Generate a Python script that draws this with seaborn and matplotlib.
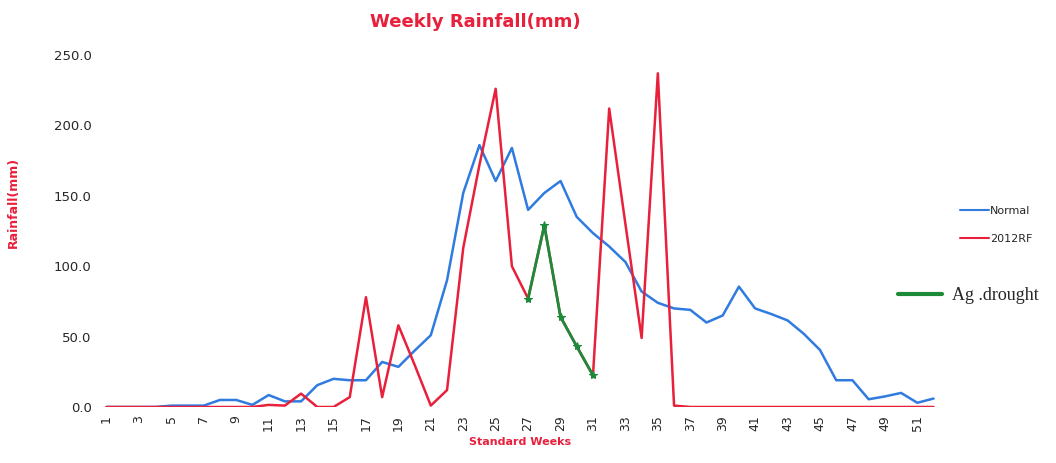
import numpy as np
import pandas as pd
import seaborn as sns
import matplotlib.pyplot as plt
from matplotlib.lines import Line2D

weeks = list(range(1, 53))
normal = [0, 0, 0, 0, 1, 1, 1, 5, 5, 1.5, 8.5, 4, 4, 15.5, 20, 19, 19, 32,
          28.5, 40, 51, 90, 152, 186, 160.5, 184, 140, 152, 160.5, 135,
          123.5, 114, 103, 82, 74, 70, 69, 60, 65, 85.5, 70, 66, 61.5, 52,
          40.5, 19, 19, 5.5, 7.5, 10, 3, 6]
rf2012 = [0, 0, 0, 0, 0, 0, 0, 0, 0, 0, 1.5, 1, 9.5, 0, 0, 7, 78, 7,
          58, 30, 1, 12, 113, 172, 226, 100, 77, 129, 64, 43, 22.5, 212,
          130, 49, 237, 1, 0, 0, 0, 0, 0, 0, 0, 0, 0, 0, 0, 0, 0, 0, 0, 0]
drought_weeks = [27, 28, 29, 30, 31]
drought = [77, 129, 64, 43, 22.5]
ytick_vals = [0, 50, 100, 150, 200, 250]

df = pd.DataFrame({"week": weeks, "Normal": normal, "2012RF": rf2012})
dg = pd.DataFrame({"week": drought_weeks, "rf": drought})

blue = "#2f7be0"
red = "#e8203c"
green = "#1d8a3a"

sns.set_style("white")
fig = plt.figure(figsize=(10.56, 4.63), dpi=100)
ax = fig.add_axes([100 / 1056, 56 / 463, 840 / 1056, 352 / 463])

sns.lineplot(data=df, x="week", y="Normal", color=blue, linewidth=1.8, ax=ax)
sns.lineplot(data=df, x="week", y="2012RF", color=red, linewidth=1.8, ax=ax)
sns.lineplot(data=dg, x="week", y="rf", color=green, linewidth=2.0,
             marker="*", markersize=6, markeredgecolor=green, ax=ax)

ax.set_xlim(0.6, 52.4)
ax.set_ylim(0, 250)
ax.set_xticks(list(range(1, 53, 2)))
ax.set_xticklabels([str(w) for w in range(1, 53, 2)], rotation=90, fontsize=9)
ax.set_yticks(ytick_vals)
ax.set_yticklabels([f"{v:.1f}" for v in ytick_vals], fontsize=9.5)
ax.tick_params(axis="both", length=0, pad=6)
for s in ax.spines.values():
    s.set_visible(False)

ax.set_xlabel("Standard Weeks", color=red, fontsize=8, fontweight="bold", labelpad=4)
ax.set_ylabel("Rainfall(mm)", color=red, fontsize=9, fontweight="bold")
ax.yaxis.set_label_coords(-0.095, 0.58)
fig.text(475 / 1056, 1 - 22 / 463, "Weekly Rainfall(mm)", color=red,
         fontsize=13, fontweight="bold", ha="center", va="center")

h1 = [Line2D([], [], color=blue, lw=1.5), Line2D([], [], color=red, lw=1.5)]
fig.legend(h1, ["Normal", "2012RF"], loc="center left",
           bbox_to_anchor=(950 / 1056, 1 - 225 / 463), frameon=False,
           fontsize=8, handlelength=2.6, handletextpad=0.1, labelspacing=1.6)
h2 = [Line2D([], [], color=green, lw=3)]
fig.legend(h2, ["Ag .drought"], loc="center left",
           bbox_to_anchor=(882 / 1056, 1 - 296 / 463), frameon=False,
           prop={"family": "Liberation Serif", "size": 13},
           handlelength=2.4, handletextpad=0.6)

fig.savefig("out.png", dpi=100)
